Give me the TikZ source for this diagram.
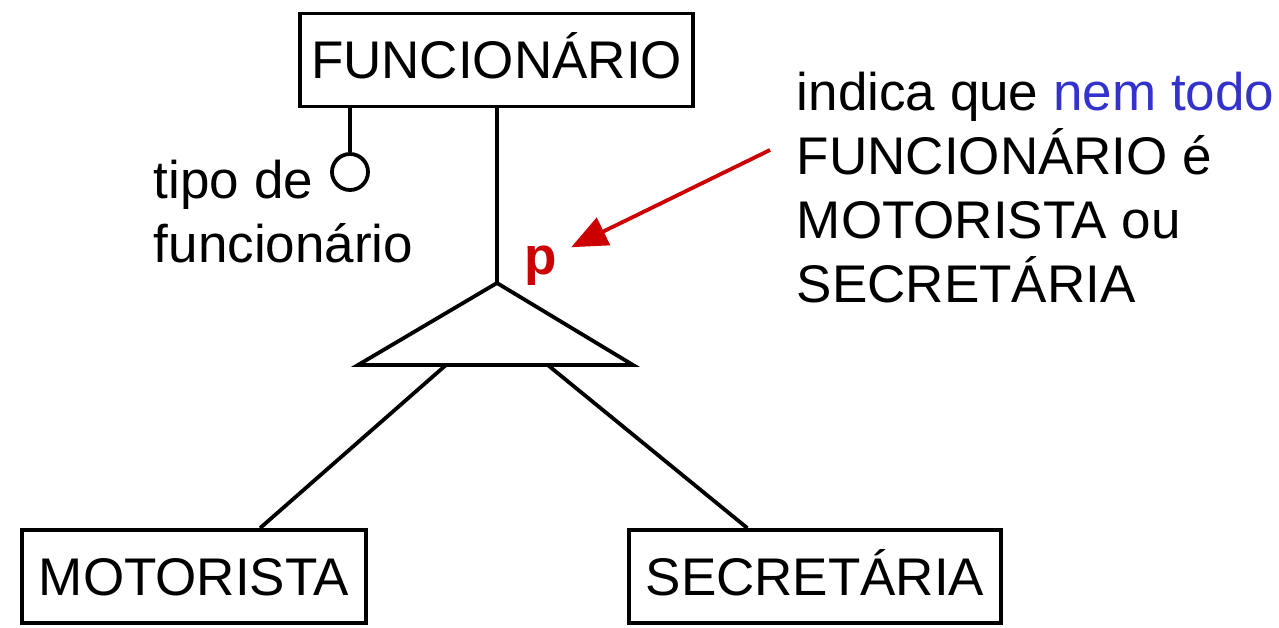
\documentclass[tikz,border=0pt]{standalone}
\usepackage{fontspec}
\setmainfont{Liberation Sans}
\usetikzlibrary{arrows.meta,calc,positioning}
\definecolor{notered}{RGB}{204,0,0}
\definecolor{noteblue}{RGB}{51,51,204}

\begin{document}
\begin{tikzpicture}[x=1pt,y=-1pt,line width=3.8pt,
  every node/.style={font=\fontsize{53}{64}\selectfont,inner sep=0pt},
  entity/.style={draw,rectangle,text height=38pt,text depth=0pt,minimum height=93pt},
  attr/.style={draw,circle,minimum size=36pt},
  note/.style={align=left,anchor=base west},
]
\useasboundingbox (0,0) rectangle (1279,628);
% entidades
\node[entity,minimum width=393pt] (nFunc) at (496.5,60) {FUNCION\'ARIO};
\node[entity,minimum width=344pt] (nMot) at (194,576.5) {MOTORISTA};
\node[entity,minimum width=372pt] (nSec) at (815,576.5) {SECRET\'ARIA};
% atributo
\node[attr] (nAttr) at (350,172) {};
\node[note] (nAttrLbl) at (152,263) {tipo de\\funcion\'ario};
\draw (nFunc.south -| nAttr) -- (nAttr.north);
% especializacao
\coordinate (tTop) at (497,283);
\coordinate (tL) at (358,365);
\coordinate (tR) at (633,365);
\draw[line join=miter] (tTop) -- (tL) -- (tR) -- cycle;
\draw (nFunc.south -| tTop) -- (tTop);
\draw ($(tL)!0.32!(tR)$) -- ($(nMot.north west)!0.69!(nMot.north east)$);
\draw ($(tL)!0.69!(tR)$) -- ($(nSec.north west)!0.32!(nSec.north east)$);
\node[anchor=base west,text=notered,font=\fontsize{53}{64}\selectfont\bfseries] (nP) at (523,274) {p};
% nota
\node[note] (nNote) at (795,302) {indica que {\color{noteblue}nem todo}\\FUNCION\'ARIO \'e\\MOTORISTA ou\\SECRET\'ARIA};
\coordinate (aStart) at (770,150);
\draw[notered,-{Triangle[length=36pt,width=30pt]}] (aStart) -- ($(nP.east)+(12,-18)$);
\end{tikzpicture}
\end{document}
